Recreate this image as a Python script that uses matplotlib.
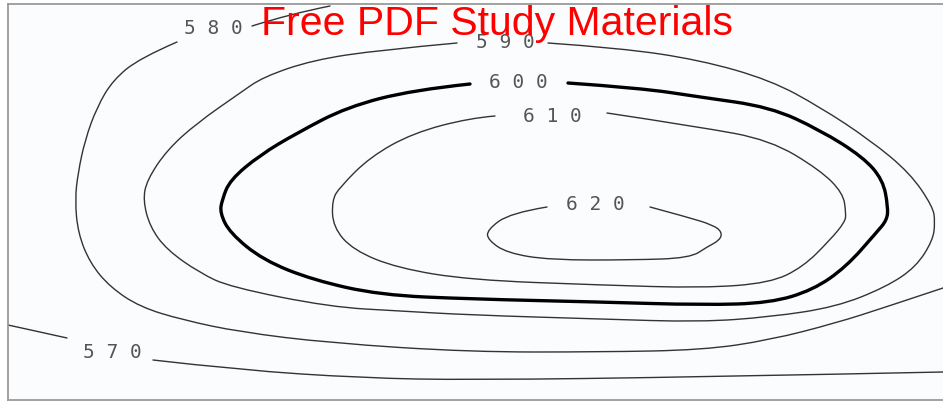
import matplotlib
matplotlib.use("Agg")
from matplotlib import pyplot as plt
from matplotlib.path import Path
from matplotlib.patches import PathPatch

# contour traces (image-like coords: x to the right, y downwards)
c570_left_x = [8, 40, 67]
c570_left_y = [325, 332, 338]
c570_right_x = [153, 240, 363, 470, 700, 943]
c570_right_y = [360, 370, 378, 380, 377, 372]

c580_x = [943, 886, 836, 770, 703, 600, 470, 330, 240, 183, 140, 110, 90, 78, 75, 78, 85, 97, 113, 140, 177]
c580_y = [288, 307, 323, 340, 350, 352, 352, 343, 332, 320, 307, 287, 263, 233, 200, 173, 140, 107, 80, 58, 42]
c580_top_x = [252, 290, 330]
c580_top_y = [26, 14, 6]

c590_x = [548, 620, 700, 770, 820, 870, 910, 933, 935, 933, 916, 886, 836, 770, 700, 600, 470, 400, 330,
          230, 200, 167, 150, 143, 147, 167, 197, 240, 263, 313, 380, 457]
c590_y = [43, 48, 60, 80, 107, 140, 173, 207, 222, 240, 267, 287, 307, 317, 322, 319, 315, 311, 307,
          287, 273, 250, 227, 200, 180, 150, 123, 93, 77, 60, 50, 43]

c600_x = [568, 640, 700, 770, 820, 863, 883, 888, 887, 876, 846, 813, 770, 703, 600, 470, 380, 313, 263,
          230, 220, 222, 230, 260, 297, 347, 413, 470]
c600_y = [83, 88, 97, 107, 130, 157, 180, 207, 220, 233, 267, 290, 303, 305, 302, 299, 295, 280, 260,
          233, 213, 200, 180, 155, 133, 107, 90, 84]

c610_x = [607, 700, 770, 820, 843, 846, 845, 830, 803, 770, 703, 600, 470, 397, 353, 333, 332, 340, 370,
          413, 470, 495]
c610_y = [113, 127, 140, 170, 193, 213, 222, 240, 267, 283, 288, 285, 280, 268, 250, 227, 200, 187, 157,
          133, 118, 116]

c620_x = [650, 687, 713, 722, 720, 707, 690, 633, 550, 507, 488, 487, 510, 547]
c620_y = [207, 217, 225, 232, 240, 247, 258, 260, 260, 253, 240, 230, 213, 207]

labels = ["5 7 0", "5 8 0", "5 9 0", "6 0 0", "6 1 0", "6 2 0"]
label_x = [112, 213, 505, 518, 552, 595]
label_y = [353, 28, 43, 82, 117, 205]


def smooth_line(ax, xs, ys, color="#333333", lw=1.0):
    # quadratic bezier through the midpoints, traced points used as controls
    pts = list(zip(xs, ys))
    verts = [pts[0]]
    codes = [Path.MOVETO]
    if len(pts) < 3:
        verts.append(pts[-1])
        codes.append(Path.LINETO)
    else:
        for i in range(1, len(pts) - 1):
            if i == len(pts) - 2:
                end = pts[-1]
            else:
                end = ((pts[i][0] + pts[i + 1][0]) / 2, (pts[i][1] + pts[i + 1][1]) / 2)
            verts += [pts[i], end]
            codes += [Path.CURVE3, Path.CURVE3]
    ax.add_patch(PathPatch(Path(verts, codes), fill=False, edgecolor=color, lw=lw,
                           capstyle="round"))


fig = plt.figure(figsize=(9.43, 4.04), dpi=100)
ax = fig.add_axes([8 / 943, 4 / 404, 940 / 943, 396 / 404])
ax.set_xlim(8, 948)
ax.set_ylim(400, 4)
ax.set_facecolor("#fbfcfd")
ax.set_xticks([])
ax.set_yticks([])
for side in ["left", "top", "bottom"]:
    ax.spines[side].set_color("#9a9a9a")
    ax.spines[side].set_linewidth(1.3)
ax.spines["right"].set_visible(False)

smooth_line(ax, c570_left_x, c570_left_y)
smooth_line(ax, c570_right_x, c570_right_y)
smooth_line(ax, c580_x, c580_y)
smooth_line(ax, c580_top_x, c580_top_y)
smooth_line(ax, c590_x, c590_y)
smooth_line(ax, c600_x, c600_y, color="black", lw=2.4)
smooth_line(ax, c610_x, c610_y)
smooth_line(ax, c620_x, c620_y)

for t, x, y in zip(labels, label_x, label_y):
    ax.text(x, y, t, ha="center", va="center", fontsize=14, color="#555555",
            family="DejaVu Sans Mono")

ax.text(497, 20, "Free PDF Study Materials", ha="center", va="center_baseline", fontsize=29.5,
        color="#ff0000", family="Liberation Sans", clip_on=False)

fig.savefig("out.png", dpi=100)
